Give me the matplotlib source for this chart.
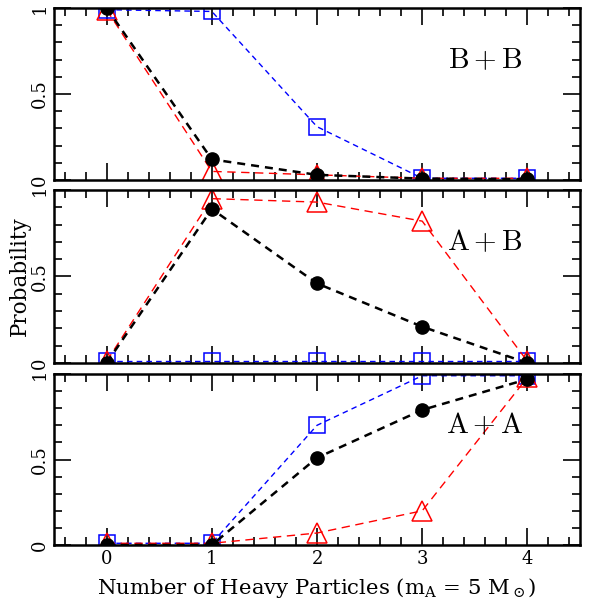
import matplotlib.pyplot as plt
from matplotlib.ticker import MultipleLocator

plt.rcParams['font.family'] = ['DejaVu Serif']
plt.rcParams['mathtext.fontset'] = 'dejavuserif'

n_heavy = [0, 1, 2, 3, 4]

# B+B
bb_black = [1.0, 0.12, 0.03, 0.008, 0.005]
bb_blue = [0.99, 0.98, 0.31, 0.01, 0.01]
bb_red = [0.99, 0.05, 0.03, 0.01, 0.01]

# A+B
ab_black = [0.0, 0.89, 0.46, 0.21, 0.0]
ab_blue = [0.01, 0.01, 0.01, 0.01, 0.01]
ab_red = [0.01, 0.95, 0.93, 0.82, 0.01]

# A+A
aa_black = [0.0, 0.0, 0.51, 0.79, 0.97]
aa_blue = [0.01, 0.01, 0.70, 0.99, 0.99]
aa_red = [0.01, 0.01, 0.07, 0.20, 0.98]

panels = [("B+B", bb_black, bb_blue, bb_red),
          ("A+B", ab_black, ab_blue, ab_red),
          ("A+A", aa_black, aa_blue, aa_red)]

fig = plt.figure(figsize=(5.91, 6.02), dpi=100)
boxes = [[0.0914, 0.701, 0.890, 0.2857],
         [0.0914, 0.397, 0.890, 0.2874],
         [0.0914, 0.0947, 0.890, 0.2840]]

axes = []
for i, (name, blk, blu, red) in enumerate(panels):
    ax = fig.add_axes(boxes[i])
    axes.append(ax)
    ax.plot(n_heavy, blu, color='blue', lw=1, dashes=(4, 3),
            marker='s', ms=11.5, mfc='none', mec='blue', mew=1.1)
    ax.plot(n_heavy, red, color='red', lw=1, dashes=(6, 4),
            marker='^', ms=14, mfc='none', mec='red', mew=1.1)
    ax.plot(n_heavy, blk, color='black', lw=1.8, dashes=(3.2, 2.4),
            marker='o', ms=9.5, mfc='black', mec='black')
    ax.text(3.6, 0.70, r"$\mathrm{" + name + "}$", fontsize=21,
            ha='center', va='center', math_fontfamily='cm')
    ax.set_xlim(-0.5, 4.5)
    ax.set_ylim(0, 1)
    ax.xaxis.set_major_locator(MultipleLocator(1))
    ax.xaxis.set_minor_locator(MultipleLocator(0.2))
    ax.yaxis.set_minor_locator(MultipleLocator(0.1))
    ax.set_yticks([0, 0.5, 1])
    ax.set_yticklabels(['0', '0.5', '1'], rotation=90, va='center')
    ax.tick_params(which='both', direction='in', top=True, right=True,
                   labelsize=13, width=1.2)
    ax.tick_params(which='major', length=12)
    ax.tick_params(which='minor', length=6)
    for s in ax.spines.values():
        s.set_linewidth(1.8)
    if i < 2:
        ax.tick_params(labelbottom=False)

axes[2].set_xlabel(r"Number of Heavy Particles (m$_{\rm A}$ = 5 M$_\odot$)",
                   fontsize=15.3, labelpad=6)
axes[1].set_ylabel("Probability", fontsize=15.5, labelpad=0)

fig.savefig("out.png", dpi=100)
